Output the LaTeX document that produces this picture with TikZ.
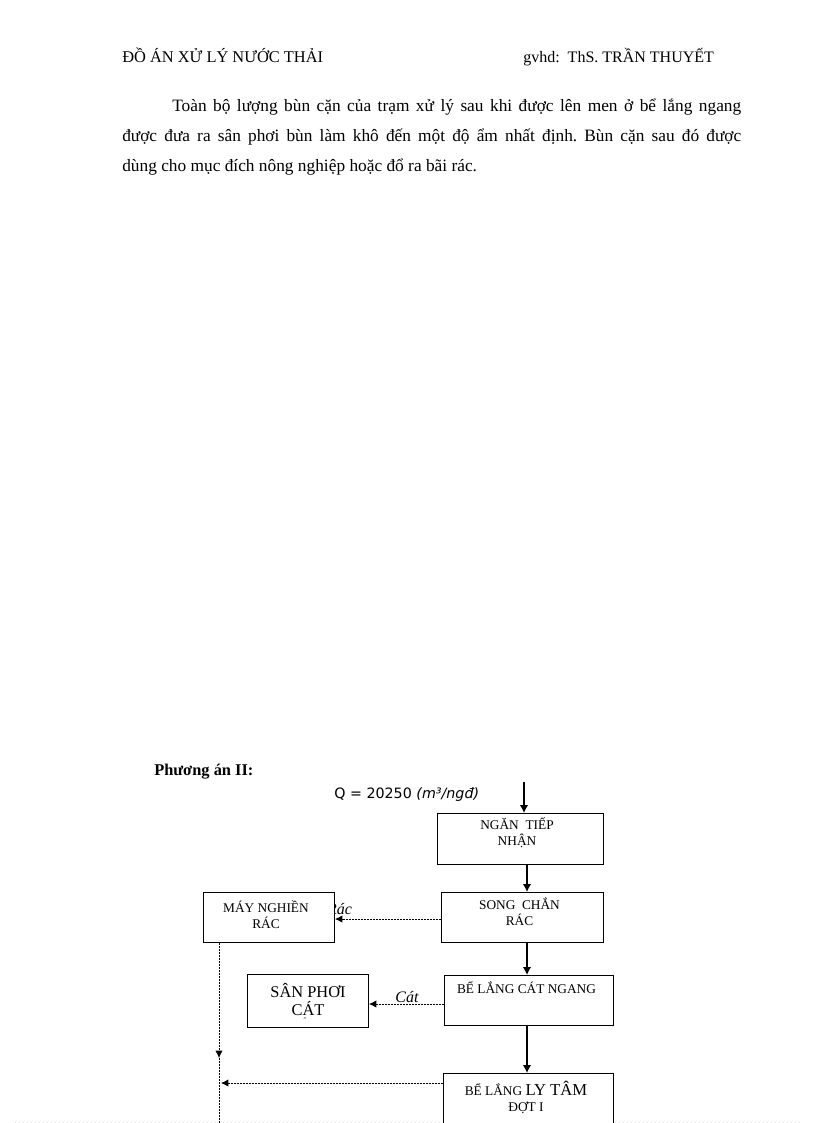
\documentclass[tikz,border=0pt]{standalone}
\usepackage{fontspec}
\setmainfont{Liberation Serif}
\newfontfamily\qsans{DejaVu Sans}
\usetikzlibrary{arrows.meta}
\begin{document}
\frenchspacing
\begin{tikzpicture}[x=0.75pt,y=-0.75pt,
  box/.style={draw, line width=0.75pt, fill=white, inner sep=0pt, anchor=north west},
  tsmall/.style={font=\fontsize{10}{12}\selectfont, align=center, inner sep=0pt},
  tbig/.style={font=\fontsize{12.3}{13}\selectfont, align=center, inner sep=0pt},
  lbl/.style={font=\fontsize{12}{14}\selectfont\itshape, inner sep=0pt},
  flow/.style={line width=1.4pt, -{Latex[length=6pt,width=6.5pt]}},
  dline/.style={line width=0.6pt, dash pattern=on 1.5pt off 0.75pt},
  dflow/.style={dline, -{Latex[length=5.5pt,width=5.5pt]}},
]
\useasboundingbox (0,0) rectangle (816,1123);
\fill[white] (0,0) rectangle (816,1123);
% header
\node[anchor=base west, inner sep=0pt, font=\fontsize{12.3}{14}\selectfont] (h1) at (122,63) {ĐỒ ÁN XỬ LÝ NƯỚC THẢI};
\node[anchor=base west, inner sep=0pt, font=\fontsize{12}{14}\selectfont] (h2) at (523,63) {gvhd:\ \ ThS. TRẦN THUYẾT};
% paragraph
\node[anchor=north west, inner sep=0pt, text width=464.25pt, align=justify,
      font=\fontsize{13}{22.2}\selectfont] (para) at (122,99)
 {\hspace*{37.5pt}Toàn bộ lượng bùn cặn của trạm xử lý sau khi được lên men ở bể lắng ngang\linebreak
  được đưa ra sân phơi bùn làm khô đến một độ ẩm nhất định. Bùn cặn sau đó được\linebreak
  dùng cho mục đích nông nghiệp hoặc đổ ra bãi rác.};
% title
\node[anchor=base west, inner sep=0pt, font=\fontsize{12.3}{14}\selectfont\bfseries] (pa) at (154,775) {Phương án II:};
\node[anchor=base west, inner sep=0pt, font=\qsans\fontsize{10.7}{12}\selectfont] (q) at (334,798) {Q = 20250 \textit{(m³/ngđ)}};
% labels drawn beneath boxes
\node[lbl] (lrac) at (339.5,909) {Rác};
\node[lbl] (lcat) at (407,997) {Cát};
% faint page line
\draw[draw={rgb,255:red,240;green,205;blue,240}, line width=0.6pt, dash pattern=on 1pt off 2pt] (15,1122) -- (800,1122);
% boxes
\node[box, minimum width=124.5pt, minimum height=38.25pt] (nga) at (437,813) {};
\node[box, minimum width=121.5pt, minimum height=37.5pt] (song) at (441,892) {};
\node[box, minimum width=98.25pt, minimum height=37.5pt] (may) at (203,892) {};
\node[box, minimum width=126.75pt, minimum height=37.5pt] (cat) at (444,975) {};
\node[box, minimum width=90.75pt, minimum height=39.75pt] (san) at (247,974) {};
\node[box, minimum width=127.5pt, minimum height=60pt] (lyt) at (443,1073) {};
% box texts
\node[tsmall] (tnga) at (517,833) {NGĂN\ \ TIẾP\\NHẬN};
\node[tsmall] (tsong) at (519.5,911.5) {SONG\ \ CHẮN\\RÁC};
\node[tsmall] (tmay) at (266,914.5) {MÁY NGHIỀN\\RÁC};
\node[tbig] (tsan) at (308,999.5) {SÂN PHƠI\\CÁT};
\node[font=\fontsize{6}{7}\selectfont, inner sep=0pt] (stray) at (305,1021) {ˆ};
\node[tsmall] (tcat) at (526.5,988) {BỂ LẮNG CÁT NGANG};
\node[tsmall] (tlyt) at (526,1097) {BỂ LẮNG {\fontsize{12.5}{12}\selectfont LY TÂM}\\ĐỢT I};
% main flow
\coordinate (qin) at (524,782);
\coordinate (sp) at (527,0);
\draw[flow] (qin) -- (qin |- nga.north);
\draw[flow] (sp |- nga.south) -- (sp |- song.north);
\draw[flow, line width=1.7pt] (sp |- song.south) -- (sp |- cat.north);
\draw[flow] (sp |- cat.south) -- (sp |- lyt.north);
% dotted side flows
\coordinate (y1) at (0,919);
\coordinate (y2) at (0,1004);
\coordinate (y3) at (0,1083);
\coordinate (vx) at (219,0);
\coordinate (vmid) at (219,1058);
\coordinate (bot) at (219,1123);
\coordinate (vj) at (221,1083);
\draw[dflow] (song.west |- y1) -- (may.east |- y1);
\draw[dflow] (cat.west |- y2) -- (san.east |- y2);
\draw[dflow] (vx |- may.south) -- (vmid);
\draw[dline] (vmid) -- (bot);
\draw[dflow] (lyt.west |- y3) -- (vj);
\end{tikzpicture}
\end{document}
